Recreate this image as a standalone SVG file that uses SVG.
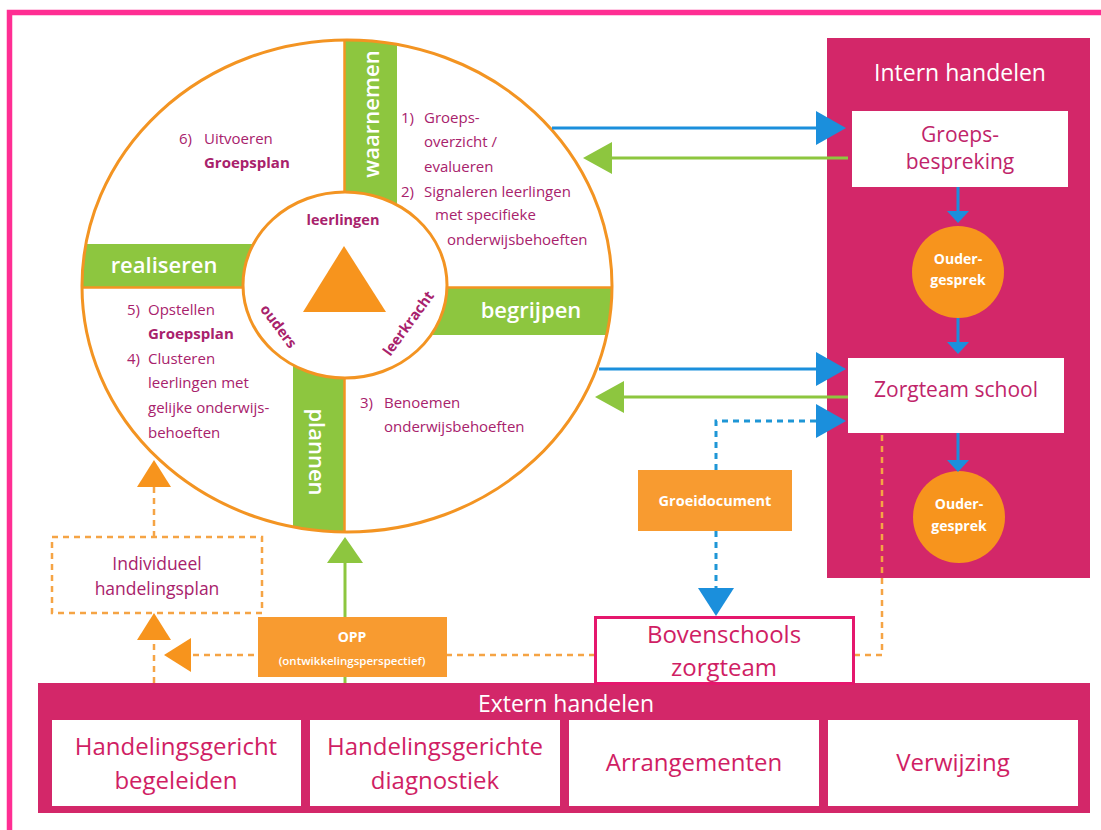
<svg xmlns="http://www.w3.org/2000/svg" width="1101" height="830" viewBox="0 0 1101 830">
<style>
text{font-family:"Open Sans","Noto Sans","Liberation Sans",sans-serif}
.ct{font-size:15px;fill:#a8226c}
.ctb{font-size:15px;fill:#a8226c;font-weight:700}
.inn{font-size:14.5px;fill:#a8226c;font-weight:700}
.bar{font-size:22px;fill:#fff;font-weight:600}
.gbar{fill:#8dc63f}
.oline{stroke:#f39422;stroke-width:2.5;fill:none}
.crim{fill:#d32769}
.wbox{fill:#fff}
.bt{font-size:21px;fill:#c0246a;text-anchor:middle}
.et{font-size:24px;fill:#d01e64;text-anchor:middle}
.ht{font-size:23px;fill:#fff;text-anchor:middle}
.oc{fill:#f7941d}
.ot{font-size:14px;fill:#fff;font-weight:700;text-anchor:middle}
.blue{stroke:#1b8fdc;stroke-width:3;fill:none}
.green{stroke:#8dc63f;stroke-width:3;fill:none}
.bdash{stroke:#1e96d6;stroke-width:3;fill:none;stroke-dasharray:6 5}
.odash{stroke:#f5a445;stroke-width:2.5;fill:none;stroke-dasharray:6 5}
</style>
<defs>
<clipPath id="cc"><ellipse cx="347" cy="286" rx="265" ry="246"/></clipPath>
<marker id="mBlue" markerUnits="userSpaceOnUse" viewBox="0 0 30 34" refX="0" refY="17" markerWidth="30" markerHeight="34" orient="auto"><path d="M0,0 L30,17 L0,34 z" fill="#1b8fdc"/></marker>
<marker id="mBlueD" markerUnits="userSpaceOnUse" viewBox="0 0 28 36" refX="0" refY="18" markerWidth="28" markerHeight="36" orient="auto"><path d="M0,0 L28,18 L0,36 z" fill="#1b8fdc"/></marker>
<marker id="mGreen" markerUnits="userSpaceOnUse" viewBox="0 0 29 32" refX="0" refY="16" markerWidth="29" markerHeight="32" orient="auto"><path d="M0,0 L29,16 L0,32 z" fill="#8dc63f"/></marker>
<marker id="mGreenUp" markerUnits="userSpaceOnUse" viewBox="0 0 26 36" refX="0" refY="18" markerWidth="26" markerHeight="36" orient="auto"><path d="M0,0 L26,18 L0,36 z" fill="#8dc63f"/></marker>
<marker id="mSmall" markerUnits="userSpaceOnUse" viewBox="0 0 12 22" refX="0" refY="11" markerWidth="12" markerHeight="22" orient="auto"><path d="M0,0 L12,11 L0,22 z" fill="#1b8fdc"/></marker>
<marker id="mOrange" markerUnits="userSpaceOnUse" viewBox="0 0 27 34" refX="0" refY="17" markerWidth="27" markerHeight="34" orient="auto"><path d="M0,0 L27,17 L0,34 z" fill="#f7941d"/></marker>
</defs>
<rect x="0" y="0" width="1101" height="830" fill="#fff"/>
<rect x="9.5" y="12.5" width="1200" height="1000" fill="none" stroke="#ff2e93" stroke-width="5.5"/>

<g id="cycle">
<ellipse cx="347" cy="286" rx="265" ry="246" fill="#fff"/>
<g clip-path="url(#cc)">
<rect class="gbar" x="344" y="30" width="53" height="200"/>
<rect class="gbar" x="293" y="340" width="52" height="220"/>
<rect class="gbar" x="70" y="244" width="200" height="44"/>
<rect class="gbar" x="420" y="287" width="210" height="48"/>
<line class="oline" x1="344.5" y1="30" x2="344.5" y2="560"/>
<line class="oline" x1="60" y1="287.5" x2="640" y2="287.5"/>
</g>
<ellipse cx="347" cy="286" rx="265" ry="246" fill="none" stroke="#f39422" stroke-width="3"/>
<ellipse cx="345" cy="285" rx="102" ry="93" fill="#fff" stroke="#f39422" stroke-width="3"/>
<polygon points="344,246 303,312 386,312" fill="#f7941d"/>
<text class="inn" x="343" y="225" text-anchor="middle">leerlingen</text>
<text class="inn" x="279" y="326" text-anchor="middle" dominant-baseline="central" transform="rotate(53 279 326)">ouders</text>
<text class="inn" x="408" y="323" text-anchor="middle" dominant-baseline="central" transform="rotate(-54 408 323)">leerkracht</text>
<text class="bar" x="370" y="114" text-anchor="middle" dominant-baseline="central" transform="rotate(-90 370 114)">waarnemen</text>
<text class="bar" x="318" y="452" text-anchor="middle" dominant-baseline="central" transform="rotate(90 318 452)">plannen</text>
<text class="bar" x="164" y="273" text-anchor="middle">realiseren</text>
<text class="bar" x="531" y="318" text-anchor="middle">begrijpen</text>
<text class="ct" x="179" y="144">6)</text><text class="ct" x="204" y="144">Uitvoeren</text>
<text class="ctb" x="204" y="168">Groepsplan</text>
<text class="ct" x="401" y="123">1)</text><text class="ct" x="424" y="123">Groeps-</text>
<text class="ct" x="424" y="147">overzicht /</text>
<text class="ct" x="424" y="172">evalueren</text>
<text class="ct" x="401" y="197">2)</text><text class="ct" x="424" y="197">Signaleren leerlingen</text>
<text class="ct" x="435" y="220">met specifieke</text>
<text class="ct" x="447" y="245">onderwijsbehoeften</text>
<text class="ct" x="127" y="315">5)</text><text class="ct" x="148" y="315">Opstellen</text>
<text class="ctb" x="148" y="339">Groepsplan</text>
<text class="ct" x="127" y="364">4)</text><text class="ct" x="148" y="364">Clusteren</text>
<text class="ct" x="148" y="388">leerlingen met</text>
<text class="ct" x="148" y="413">gelijke onderwijs-</text>
<text class="ct" x="148" y="438">behoeften</text>
<text class="ct" x="360" y="408">3)</text><text class="ct" x="384" y="408">Benoemen</text>
<text class="ct" x="384" y="432">onderwijsbehoeften</text>
</g>

<g id="intern">
<rect class="crim" x="827" y="38" width="263" height="540"/>
<text class="ht" x="960" y="81">Intern handelen</text>
</g>
<g id="groepsbespreking">
<rect class="wbox" x="852" y="111" width="216" height="76"/>
<text class="bt" x="960" y="142">Groeps-</text>
<text class="bt" x="960" y="169">bespreking</text>
</g>
<g id="oudergesprek1">
<circle class="oc" cx="958" cy="272" r="46"/>
<text class="ot" x="958" y="264">Ouder-</text>
<text class="ot" x="958" y="285">gesprek</text>
</g>
<g id="zorgteam">
<rect class="wbox" x="848" y="358" width="216" height="75"/>
<text class="bt" x="956" y="397">Zorgteam school</text>
</g>
<g id="oudergesprek2">
<circle class="oc" cx="959" cy="517" r="46"/>
<text class="ot" x="959" y="509">Ouder-</text>
<text class="ot" x="959" y="531">gesprek</text>
</g>

<g id="connectors">
<line class="blue" x1="552" y1="128" x2="816" y2="128" marker-end="url(#mBlue)"/>
<line class="green" x1="848" y1="158" x2="612" y2="158" marker-end="url(#mGreen)"/>
<line class="blue" x1="599" y1="369" x2="816" y2="369" marker-end="url(#mBlue)"/>
<line class="green" x1="848" y1="397" x2="624" y2="397" marker-end="url(#mGreen)"/>
<path class="bdash" d="M716,470 V421 H816" marker-end="url(#mBlue)"/>
<path class="bdash" d="M716,531 V588" marker-end="url(#mBlueD)"/>
<line class="blue" x1="958" y1="187" x2="958" y2="211" marker-end="url(#mSmall)"/>
<line class="blue" x1="958" y1="318" x2="958" y2="342" marker-end="url(#mSmall)"/>
<line class="blue" x1="958" y1="433" x2="958" y2="460" marker-end="url(#mSmall)"/>
<line class="green" x1="345" y1="683" x2="345" y2="563" marker-end="url(#mGreenUp)"/>
<path class="odash" d="M882,435 V655 H855"/>
<path class="odash" d="M595,655 H191" marker-end="url(#mOrange)"/>
<path class="odash" d="M154,683 V640" marker-end="url(#mOrange)"/>
<path class="odash" d="M154,537 V487" marker-end="url(#mOrange)"/>
</g>

<g id="individueel">
<rect x="52" y="537" width="210" height="76" fill="#fff" class="odash"/>
<text x="157" y="570" font-size="17.5" fill="#a8226c" text-anchor="middle">Individueel</text>
<text x="157" y="595" font-size="17.5" fill="#a8226c" text-anchor="middle">handelingsplan</text>
</g>
<g id="opp">
<rect x="258" y="617" width="189" height="60" fill="#f89b30"/>
<text x="352" y="642" font-size="14" font-weight="700" fill="#fff" text-anchor="middle">OPP</text>
<text x="352" y="665" font-size="11.5" font-weight="600" fill="#fff" text-anchor="middle">(ontwikkelingsperspectief)</text>
</g>
<g id="groeidocument">
<rect x="638" y="470" width="154" height="61" fill="#f89b30"/>
<text x="715" y="506" font-size="14.5" font-weight="700" fill="#fff" text-anchor="middle">Groeidocument</text>
</g>

<g id="extern">
<rect class="crim" x="38" y="683" width="1052" height="130"/>
<text class="ht" x="566" y="712">Extern handelen</text>
<rect class="wbox" x="52" y="720" width="249" height="86"/>
<rect class="wbox" x="310" y="720" width="250" height="86"/>
<rect class="wbox" x="569" y="720" width="250" height="86"/>
<rect class="wbox" x="828" y="720" width="250" height="86"/>
<text class="et" x="176" y="755">Handelingsgericht</text>
<text class="et" x="176" y="789">begeleiden</text>
<text class="et" x="435" y="755">Handelingsgerichte</text>
<text class="et" x="435" y="789">diagnostiek</text>
<text class="et" x="694" y="771">Arrangementen</text>
<text class="et" x="953" y="771">Verwijzing</text>
</g>
<g id="bovenschools">
<rect x="595.5" y="617.5" width="258" height="66" fill="#fff" stroke="#e5176d" stroke-width="3"/>
<text class="et" x="724" y="643">Bovenschools</text>
<text class="et" x="724" y="676">zorgteam</text>
</g>
</svg>
